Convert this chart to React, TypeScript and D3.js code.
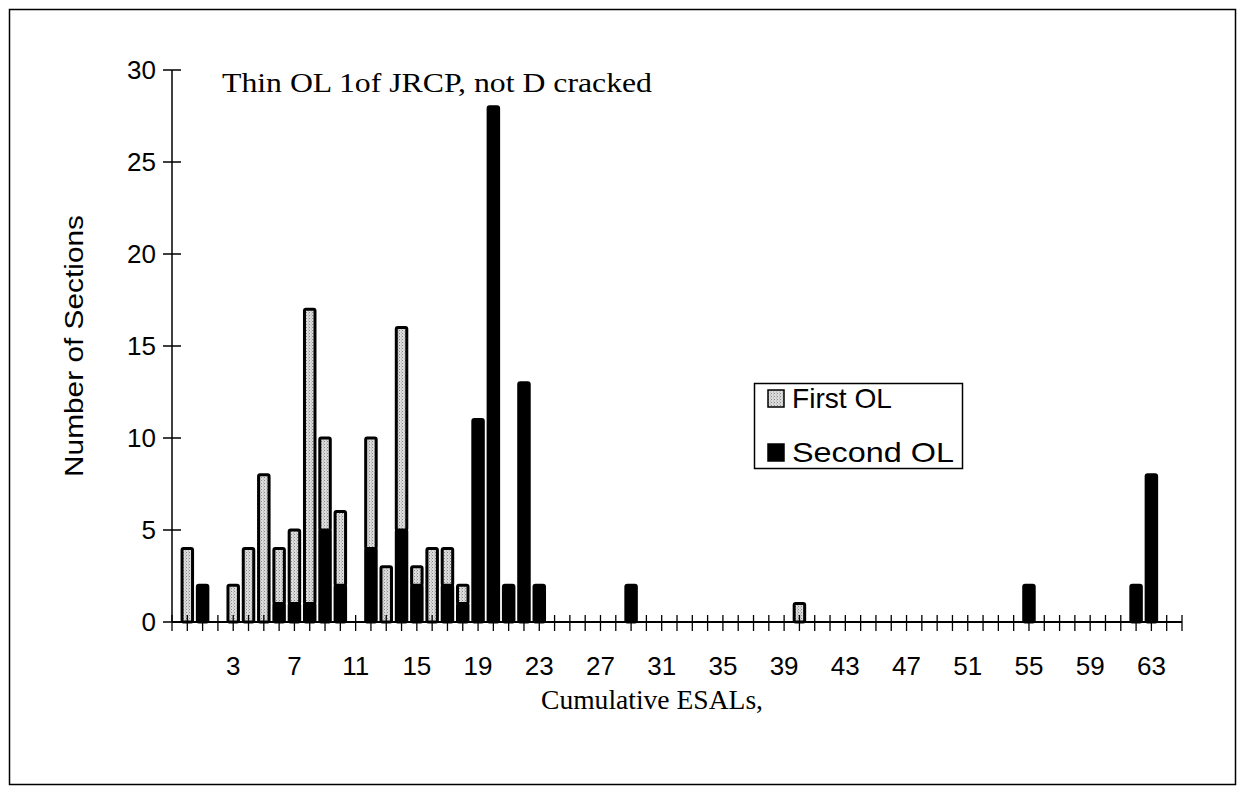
import React from "react";
import * as d3 from "d3";

// Category numbers (x axis)
const categories: number[] = [
  0, 1, 2, 3, 4, 5, 6, 7, 8, 9, 10, 11, 12, 13, 14, 15, 16, 17, 18, 19, 20,
  21, 22, 23, 24, 25, 26, 27, 28, 29, 30, 31, 32, 33, 34, 35, 36, 37, 38, 39,
  40, 41, 42, 43, 44, 45, 46, 47, 48, 49, 50, 51, 52, 53, 54, 55, 56, 57, 58,
  59, 60, 61, 62, 63, 64,
];
// Second OL (black, bottom of stack)
const secondOL: number[] = [
  0, 2, 0, 0, 0, 0, 1, 1, 1, 5, 2, 0, 4, 0, 5, 2, 0, 2, 1, 11, 28,
  2, 13, 2, 0, 0, 0, 0, 0, 2, 0, 0, 0, 0, 0, 0, 0, 0, 0, 0,
  0, 0, 0, 0, 0, 0, 0, 0, 0, 0, 0, 0, 0, 0, 0, 2, 0, 0, 0,
  0, 0, 0, 2, 8, 0,
];
// First OL (stippled grey, stacked on top)
const firstOL: number[] = [
  4, 0, 0, 2, 4, 8, 3, 4, 16, 5, 4, 0, 6, 3, 11, 1, 4, 2, 1, 0, 0,
  0, 0, 0, 0, 0, 0, 0, 0, 0, 0, 0, 0, 0, 0, 0, 0, 0, 0, 0,
  1, 0, 0, 0, 0, 0, 0, 0, 0, 0, 0, 0, 0, 0, 0, 0, 0, 0, 0,
  0, 0, 0, 0, 0, 0,
];
const xTickLabels: number[] = [3, 7, 11, 15, 19, 23, 27, 31, 35, 39, 43, 47, 51, 55, 59, 63];
const yTicks: number[] = [0, 5, 10, 15, 20, 25, 30];
const seriesNames: string[] = ["First OL", "Second OL"];
const legendTextLengths: number[] = [100, 162];

const W = 1244;
const H = 793;

export default function App() {
  const x = d3.scaleLinear().domain([-1, 65]).range([172, 1182]);
  const y = d3.scaleLinear().domain([0, 30]).range([622, 70]);
  const barW = 10.5;
  const axisTicks = d3.range(-1, 66);
  const sans = "Arial, 'Liberation Sans', Helvetica, sans-serif";
  const serif = "'Times New Roman', 'Liberation Serif', Times, serif";

  return (
    <svg
      width={W}
      height={H}
      style={{ position: "absolute", left: 0, top: 0, background: "#fff" }}
    >
      <defs>
        <pattern id="stipple" width="3" height="3" patternUnits="userSpaceOnUse">
          <rect width="3" height="3" fill="#dcdcdc" />
          <rect x="0" y="0" width="1" height="1" fill="#8a8a8a" />
          <rect x="2" y="1.5" width="1" height="1" fill="#a8a8a8" />
        </pattern>
      </defs>
      <rect x={9.5} y={9.5} width={1226} height={775} fill="none" stroke="#000" strokeWidth={1.5} />

      {/* title */}
      <text
        x={222}
        y={92}
        fontFamily={serif}
        fontSize={28}
        textLength={430}
        lengthAdjust="spacingAndGlyphs"
        fill="#000"
      >
        Thin OL 1of JRCP, not D cracked
      </text>

      {/* bars */}
      {categories.map((c, i) => {
        const s = secondOL[i];
        const f = firstOL[i];
        const cx = x(c);
        return (
          <g key={c}>
            {s > 0 && (
              <rect
                x={cx - barW / 2}
                y={y(s)}
                width={barW}
                height={y(0) - y(s)}
                fill="#000"
                stroke="#000"
                strokeWidth={3}
                rx={1.5}
              />
            )}
            {f > 0 && (
              <rect
                x={cx - barW / 2}
                y={y(s + f)}
                width={barW}
                height={y(s) - y(s + f)}
                fill="url(#stipple)"
                stroke="#000"
                strokeWidth={3}
                rx={1.5}
              />
            )}
          </g>
        );
      })}

      {/* y axis */}
      <line x1={x(-1)} x2={x(-1)} y1={y(30)} y2={y(0)} stroke="#000" strokeWidth={1.5} />
      {yTicks.map((t) => (
        <g key={t}>
          <line x1={x(-1) - 9} x2={x(-1) + 9} y1={y(t)} y2={y(t)} stroke="#000" strokeWidth={1.5} />
          <text
            x={156}
            y={y(t)}
            dy="0.36em"
            textAnchor="end"
            fontFamily={sans}
            fontSize={26}
            fill="#000"
          >
            {t}
          </text>
        </g>
      ))}

      {/* x axis */}
      <line x1={x(-1)} x2={x(65)} y1={y(0)} y2={y(0)} stroke="#000" strokeWidth={2} />
      {axisTicks.map((t) => (
        <line key={t} x1={x(t)} x2={x(t)} y1={y(0) - 7} y2={y(0) + 9} stroke="#000" strokeWidth={1.3} />
      ))}
      {xTickLabels.map((t) => (
        <text
          key={t}
          x={x(t)}
          y={675}
          textAnchor="middle"
          fontFamily={sans}
          fontSize={26}
          fill="#000"
        >
          {t}
        </text>
      ))}

      {/* axis titles */}
      <text
        x={652}
        y={709}
        textAnchor="middle"
        fontFamily={serif}
        fontSize={27}
        textLength={222}
        lengthAdjust="spacingAndGlyphs"
        fill="#000"
      >
        Cumulative ESALs,
      </text>
      <text
        transform="translate(83,346) rotate(-90)"
        textAnchor="middle"
        fontFamily={sans}
        fontSize={25}
        textLength={262}
        lengthAdjust="spacingAndGlyphs"
        fill="#000"
      >
        Number of Sections
      </text>

      {/* legend */}
      <rect x={754.5} y={383.5} width={208} height={85} fill="#fff" stroke="#000" strokeWidth={1.5} />
      {seriesNames.map((n, i) => (
        <g key={n} transform={`translate(0, ${i * 54})`}>
          <rect
            x={768}
            y={390}
            width={16}
            height={17}
            fill={i === 0 ? "url(#stipple)" : "#000"}
            stroke="#000"
            strokeWidth={1.5}
          />
          <text
            x={792}
            y={408}
            fontFamily={sans}
            fontSize={28}
            textLength={legendTextLengths[i]}
            lengthAdjust="spacingAndGlyphs"
            fill="#000"
          >
            {n}
          </text>
        </g>
      ))}
    </svg>
  );
}
